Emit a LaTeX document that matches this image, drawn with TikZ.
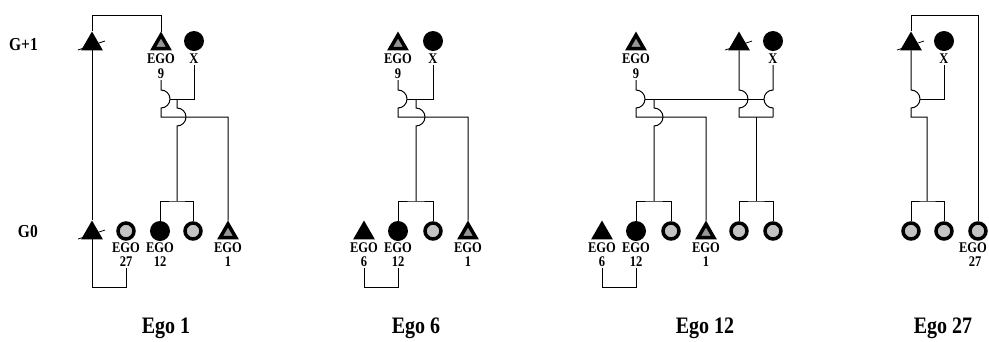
\documentclass[tikz,border=0pt]{standalone}
\usepackage{fontspec}
\setmainfont{Liberation Serif}
\usetikzlibrary{shapes.geometric}

\definecolor{trifill}{RGB}{150,150,150}
\definecolor{cirfill}{RGB}{195,195,195}
\newcommand{\tall}[1]{\scalebox{1}[1.18]{#1}}
\newcommand{\deadmark}[1]{\draw[line width=0.8pt] ([shift={(-14,-6)}]#1.center) -- ([shift={(13,3)}]#1.center);}

\begin{document}
\begin{tikzpicture}[x=1pt, y=1pt,
    male/.style={regular polygon, regular polygon sides=3, fill=black, inner sep=0pt, minimum size=25pt},
    maleego/.style={regular polygon, regular polygon sides=3, draw, line width=3.5pt, fill=trifill, inner sep=0pt, minimum size=18pt},
    female/.style={circle, fill=black, inner sep=0pt, minimum size=20pt},
    femaleego/.style={circle, draw, line width=3.5pt, fill=cirfill, inner sep=0pt, minimum size=16pt},
    tag/.style={font=\bfseries\fontsize{12.5}{13}\selectfont, inner sep=1pt},
    gen/.style={font=\bfseries\fontsize{15.5}{16}\selectfont, anchor=east, inner sep=0pt},
    title/.style={font=\bfseries\fontsize{20}{20}\selectfont, inner sep=0pt},
    link/.style={line width=1pt, black}
]
\useasboundingbox (0,0) rectangle (989,-341);

% Generations
\node[gen] (g1) at (38,-45) {\tall{G+1}};
\node[gen] (g0) at (38,-232) {\tall{G0}};

% Ego 1
\node[male] (p1f) at (92,-44) {};
\node[maleego] (p1e9) at (161,-44) {};
\node[female] (p1x) at (194,-41) {};
\node[tag] (p1e9t) at (161,-59) {\tall{EGO}};
\node[tag] (p1e9n) at (161,-74) {\tall{9}};
\node[tag] (p1xt) at (194,-59) {\tall{X}};
\node[male] (p1s) at (92,-233) {};
\node[femaleego] (p1e27) at (126,-231) {};
\node[female] (p1e12) at (160,-231) {};
\node[femaleego] (p1z) at (193,-231) {};
\node[maleego] (p1e1) at (228,-233) {};
\node[tag] (p1e27t) at (126,-248) {\tall{EGO}};
\node[tag] (p1e27n) at (126,-262) {\tall{27}};
\node[tag] (p1e12t) at (160,-248) {\tall{EGO}};
\node[tag] (p1e12n) at (160,-262) {\tall{12}};
\node[tag] (p1e1t) at (228,-248) {\tall{EGO}};
\node[tag] (p1e1n) at (228,-262) {\tall{1}};
\node[title] (p1title) at (166,-328) {\tall{Ego 1}};
\coordinate (p1h) at (170,-99);
\coordinate (p1m) at (177,-99);
\coordinate (p1b) at (177,-201);

\draw[link] (p1f.north) -- (92,-15) -| (p1e9.north);
\draw[link] (p1s.north) -- (p1f.south);
\draw[link] (p1s.south) -- (92,-287) -| (p1e27n.south);
\draw[link] (p1e9n.south) -- (161,-90) arc[start angle=90, end angle=-90, radius=9] -- (161,-117) -| (p1e1.north);
\draw[link] (p1xt.south) |- (p1h);
\draw[link] (p1m) -- (177,-108) arc[start angle=90, end angle=-90, radius=9] -- (p1b);
\draw[link] (p1e12.north) |- (p1b) -| (p1z.north);
\deadmark{p1f}
\deadmark{p1s}

% Ego 6
\node[maleego] (p2e9) at (398,-44) {};
\node[female] (p2x) at (433,-41) {};
\node[tag] (p2e9t) at (398,-59) {\tall{EGO}};
\node[tag] (p2e9n) at (398,-74) {\tall{9}};
\node[tag] (p2xt) at (433,-59) {\tall{X}};
\node[male] (p2e6) at (364,-233) {};
\node[female] (p2e12) at (398,-231) {};
\node[femaleego] (p2z) at (433,-231) {};
\node[maleego] (p2e1) at (468,-233) {};
\node[tag] (p2e6t) at (364,-248) {\tall{EGO}};
\node[tag] (p2e6n) at (364,-262) {\tall{6}};
\node[tag] (p2e12t) at (398,-248) {\tall{EGO}};
\node[tag] (p2e12n) at (398,-262) {\tall{12}};
\node[tag] (p2e1t) at (468,-248) {\tall{EGO}};
\node[tag] (p2e1n) at (468,-262) {\tall{1}};
\node[title] (p2title) at (416,-328) {\tall{Ego 6}};
\coordinate (p2h) at (407,-99);
\coordinate (p2m) at (416,-99);
\coordinate (p2b) at (416,-201);

\draw[link] (p2e9n.south) -- (398,-90) arc[start angle=90, end angle=-90, radius=9] -- (398,-117) -| (p2e1.north);
\draw[link] (p2xt.south) |- (p2h);
\draw[link] (p2m) -- (416,-108) arc[start angle=90, end angle=-90, radius=9] -- (p2b);
\draw[link] (p2e12.north) |- (p2b) -| (p2z.north);
\draw[link] (p2e6n.south) -- (364,-287) -| (p2e12n.south);

% Ego 12
\node[maleego] (p3e9) at (636,-44) {};
\node[male] (p3f) at (739,-44) {};
\node[female] (p3x) at (773,-41) {};
\node[tag] (p3e9t) at (636,-59) {\tall{EGO}};
\node[tag] (p3e9n) at (636,-74) {\tall{9}};
\node[tag] (p3xt) at (773,-59) {\tall{X}};
\node[male] (p3e6) at (602,-233) {};
\node[female] (p3e12) at (636,-231) {};
\node[femaleego] (p3z) at (671,-231) {};
\node[maleego] (p3e1) at (706,-233) {};
\node[femaleego] (p3u) at (739,-231) {};
\node[femaleego] (p3v) at (773,-231) {};
\node[tag] (p3e6t) at (602,-248) {\tall{EGO}};
\node[tag] (p3e6n) at (602,-262) {\tall{6}};
\node[tag] (p3e12t) at (636,-248) {\tall{EGO}};
\node[tag] (p3e12n) at (636,-262) {\tall{12}};
\node[tag] (p3e1t) at (706,-248) {\tall{EGO}};
\node[tag] (p3e1n) at (706,-262) {\tall{1}};
\node[title] (p3title) at (705,-328) {\tall{Ego 12}};
\coordinate (p3ha) at (645,-99);
\coordinate (p3hb) at (764,-99);
\coordinate (p3m) at (654,-99);
\coordinate (p3b) at (654,-201);
\coordinate (p3k) at (756,-117);
\coordinate (p3c) at (756,-201);

\draw[link] (p3e9n.south) -- (636,-90) arc[start angle=90, end angle=-90, radius=9] -- (636,-117) -| (p3e1.north);
\draw[link] (p3ha) -- (p3hb);
\draw[link] (p3f.south) -- (739,-90) arc[start angle=90, end angle=-90, radius=9] -- (739,-117) -- (773,-117);
\draw[link] (p3xt.south) -- (773,-90) arc[start angle=90, end angle=270, radius=9] -- (773,-117);
\draw[link] (p3m) -- (654,-108) arc[start angle=90, end angle=-90, radius=9] -- (p3b);
\draw[link] (p3e12.north) |- (p3b) -| (p3z.north);
\draw[link] (p3k) -- (p3c);
\draw[link] (p3u.north) |- (p3c) -| (p3v.north);
\draw[link] (p3e6n.south) -- (602,-287) -| (p3e12n.south);
\deadmark{p3f}

% Ego 27
\node[male] (p4f) at (911,-44) {};
\node[female] (p4x) at (944,-41) {};
\node[tag] (p4xt) at (944,-59) {\tall{X}};
\node[femaleego] (p4u) at (911,-231) {};
\node[femaleego] (p4v) at (944,-231) {};
\node[femaleego] (p4e27) at (978,-231) {};
\node[tag] (p4e27t) at (973,-248) {\tall{EGO}};
\node[tag] (p4e27n) at (975,-262) {\tall{27}};
\node[title] (p4title) at (943,-328) {\tall{Ego 27}};
\coordinate (p4h) at (920,-99);
\coordinate (p4b) at (927,-201);

\draw[link] (p4f.north) -- (911,-15) -| (p4e27.north);
\draw[link] (p4f.south) -- (911,-90) arc[start angle=90, end angle=-90, radius=9] -- (911,-117) -| (p4b);
\draw[link] (p4xt.south) |- (p4h);
\draw[link] (p4u.north) |- (p4b) -| (p4v.north);
\deadmark{p4f}

\end{tikzpicture}
\end{document}
